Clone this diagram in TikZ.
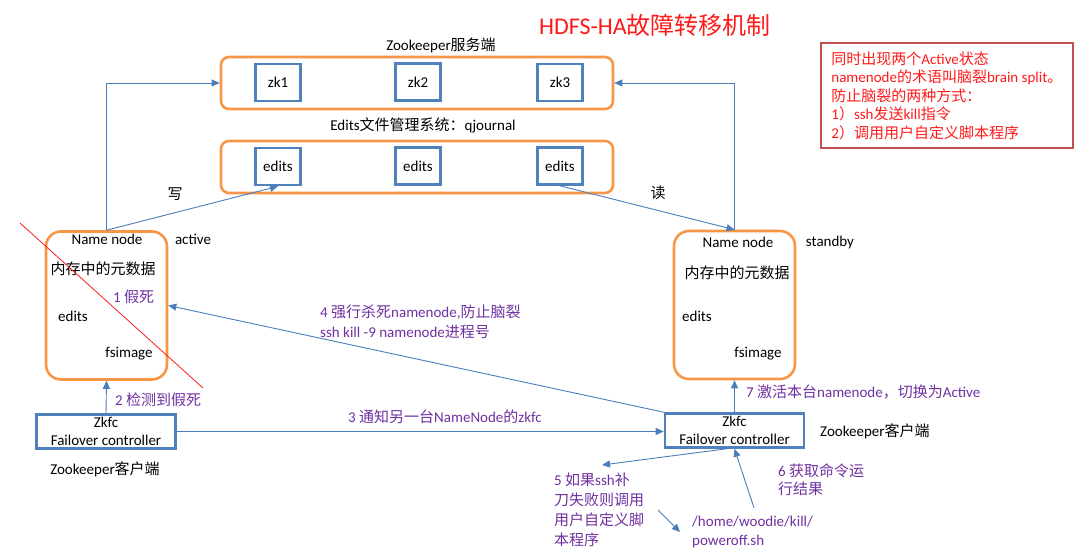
\documentclass[tikz,border=0pt]{standalone}
\usepackage{fontspec}
\setmainfont{Carlito}
\newfontfamily\cjk{Noto Sans CJK SC}
\newcommand{\zh}[1]{{\cjk #1}}
\usetikzlibrary{arrows.meta}
\definecolor{corange}{HTML}{F79646}
\definecolor{cblue}{HTML}{4F81BD}
\definecolor{cline}{HTML}{4A7EBB}
\definecolor{cpurple}{HTML}{7030A0}
\definecolor{cred}{HTML}{FF1A1A}
\definecolor{cdarkred}{HTML}{C0504D}

\begin{document}
\begin{tikzpicture}[x=1pt,y=-1pt,
  every node/.style={font=\fontsize{15}{18}\selectfont, inner sep=0pt},
  groupbox/.style={draw=corange, line width=2.6pt, rounded corners=8pt,
    minimum width=392pt, minimum height=52pt},
  nnbox/.style={draw=corange, line width=2.6pt, rounded corners=15pt,
    minimum width=121pt, minimum height=148pt},
  zkbox/.style={draw=cblue, line width=2.6pt, minimum width=45pt, minimum height=37pt},
  fcbox/.style={draw=cblue, line width=2.6pt, minimum width=139pt, minimum height=34pt,
    align=center},
  lbl/.style={text=cpurple, align=left, anchor=west},
  link/.style={draw=cline, line width=0.9pt, -{Triangle[length=8pt,width=7pt]}}]
  \useasboundingbox (0,0) rectangle (1080,555);

  \node[text=cred, font=\fontsize{24}{28}\selectfont] (title) at (655,25) {HDFS-HA\zh{故障转移机制}};
  \node[draw=cdarkred, line width=1.8pt, text=cred, anchor=north west, align=left,
    minimum width=252pt, minimum height=105pt,
    font=\fontsize{15}{18.5}\selectfont] (brain) at (820,42) {%
    \zh{同时出现两个}Active\zh{状态}\\
    namenode\zh{的术语叫脑裂}brain split\zh{。}\\
    \zh{防止脑裂的两种方式：}\\
    1\zh{）}ssh\zh{发送}kill\zh{指令}\\
    2\zh{）调用用户自定义脚本程序}};

  \node (zklbl) at (441,45) {Zookeeper\zh{服务端}};
  \node[groupbox] (zks) at (417,83) {};
  \node[zkbox] (zk1) at (278,82.5) {zk1};
  \node[zkbox] (zk2) at (418,82) {zk2};
  \node[zkbox] (zk3) at (560,82.5) {zk3};
  \node (jnlbl) at (423,125) {Edits\zh{文件管理系统：}qjournal};
  \node[groupbox] (jns) at (417,167) {};
  \node[zkbox] (ed1) at (278,166.5) {edits};
  \node[zkbox] (ed2) at (418,166) {edits};
  \node[zkbox] (ed3) at (560,166) {edits};

  \node[nnbox] (nnA) at (106.5,305.5) {};
  \node (nnAname) at (107,239) {Name node};
  \node (nnAstate) at (193,239) {active};
  \node (nnAmem) at (103,269) {\zh{内存中的元数据}};
  \node (nnAedits) at (73,316) {edits};
  \node (nnAimg) at (129,354) {fsimage};
  \node[lbl] (dead) at (113,297) {1 \zh{假死}};
  \draw[cred, line width=0.8pt] (20,223) -- (203,388);

  \node[nnbox] (nnS) at (734.5,305) {};
  \node (nnSname) at (738,242) {Name node};
  \node (nnSstate) at (830,242) {standby};
  \node (nnSmem) at (737,273) {\zh{内存中的元数据}};
  \node (nnSedits) at (697,316) {edits};
  \node (nnSimg) at (758,354) {fsimage};

  \node[fcbox] (fcA) at (106,431.5) {Zkfc\\Failover controller};
  \node[fcbox] (fcS) at (734.5,430.5) {Zkfc\\Failover controller};
  \node (zkcA) at (105,469) {Zookeeper\zh{客户端}};
  \node[anchor=west] (zkcS) at (820,431) {Zookeeper\zh{客户端}};

  \node (wr) at (175,194) {\zh{写}};
  \node (rd) at (658,193) {\zh{读}};
  \draw[link] (nnA.north) |- (zks.west);
  \draw[link] (nnS.north) |- (zks.east);
  \draw[link] (nnA.north) -- (ed1.south);
  \draw[link] (ed3.south) -- (nnS.north);

  \node[lbl] (step2) at (115,400) {2 \zh{检测到假死}};
  \node[lbl] (step3) at (348,417) {3 \zh{通知另一台}NameNode\zh{的}zkfc};
  \node[lbl, font=\fontsize{15}{19.5}\selectfont] (step4) at (320,322) {4 \zh{强行杀死}namenode,\zh{防止脑裂}\\ssh kill -9 namenode\zh{进程号}};
  \node[lbl, font=\fontsize{15}{20}\selectfont] (step5) at (554,510) {5 \zh{如果}ssh\zh{补}\\\zh{刀失败则调用}\\\zh{用户自定义脚}\\\zh{本程序}};
  \node[lbl, font=\fontsize{15}{18}\selectfont] (step6) at (778,480) {6 \zh{获取命令运}\\\zh{行结果}};
  \node[lbl] (step7) at (746,392) {7 \zh{激活本台}namenode\zh{，切换为}Active};
  \node[lbl, font=\fontsize{15}{19}\selectfont] (script) at (692,532) {/home/woodie/kill/\\poweroff.sh};

  \draw[link] (fcA.north) -- (nnA.south);
  \draw[link] (fcS.north) -- (nnS.south);
  \draw[link] (fcA.east) -- (fcA.east -| fcS.west);
  \draw[link] (fcS.north west) -- (nnA.east);
  \coordinate (c5) at (602,465);
  \coordinate (c5a) at (658,510);
  \coordinate (c5b) at (680,532);
  \coordinate (c6) at (754,508);
  \draw[link] ([xshift=-8pt]fcS.south) -- (c5);
  \draw[link] (c5a) -- (c5b);
  \draw[link] (c6) -- (fcS.south);
\end{tikzpicture}
\end{document}
